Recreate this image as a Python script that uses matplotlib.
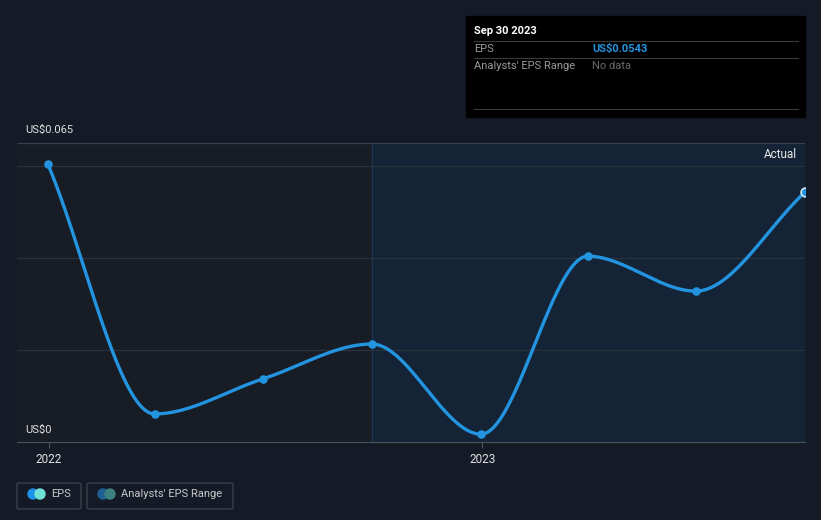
import numpy as np
import pandas as pd
import matplotlib
matplotlib.use('Agg')
import matplotlib.pyplot as plt
import matplotlib.dates as mdates
from matplotlib.patches import FancyBboxPatch, Rectangle, Ellipse

plt.rcParams['font.family'] = ['Roboto', 'DejaVu Sans']

## EPS data (quarterly)
dates = pd.to_datetime(['2021-12-31', '2022-03-31', '2022-06-30', '2022-09-30',
                        '2022-12-31', '2023-03-31', '2023-06-30', '2023-09-30'])
eps = [0.0604, 0.0061, 0.0137, 0.0213, 0.0017, 0.0404, 0.0328, 0.0543]
forecast_start = pd.Timestamp('2022-09-30')
tick_dates = pd.to_datetime(['2022-01-01', '2023-01-01'])
tick_labels = ['2022', '2023']

BG = '#151b26'
LINE = '#2394e0'


def monotone(x, y, n=600):
    # monotone cubic (Fritsch-Carlson) for the smooth curve
    x = np.asarray(x, float); y = np.asarray(y, float)
    h = np.diff(x); d = np.diff(y) / h
    m = np.zeros_like(y)
    m[0] = d[0]; m[-1] = d[-1]
    for i in range(1, len(y) - 1):
        if d[i - 1] * d[i] <= 0:
            m[i] = 0
        else:
            w1 = 2 * h[i] + h[i - 1]; w2 = h[i] + 2 * h[i - 1]
            m[i] = (w1 + w2) / (w1 / d[i - 1] + w2 / d[i])
    xs = np.linspace(x[0], x[-1], n)
    idx = np.clip(np.searchsorted(x, xs) - 1, 0, len(h) - 1)
    t = (xs - x[idx]) / h[idx]
    h00 = 2*t**3 - 3*t**2 + 1; h10 = t**3 - 2*t**2 + t
    h01 = -2*t**3 + 3*t**2; h11 = t**3 - t**2
    ys = h00*y[idx] + h10*h[idx]*m[idx] + h01*y[idx+1] + h11*h[idx]*m[idx+1]
    return xs, ys


fig = plt.figure(figsize=(8.21, 5.2), dpi=100, facecolor=BG)
W, H = 821, 520
ax = fig.add_axes([17/W, 1 - 442/H, (805-17)/W, (442-143)/H])
ax.set_facecolor('#181c25')

xn = mdates.date2num(dates)
x0 = mdates.date2num(pd.Timestamp('2021-12-05'))
ax.set_xlim(x0, xn[-1])
ax.set_ylim(0, 0.065)

# actual region shading
fs = mdates.date2num(forecast_start)
ax.axvspan(fs, xn[-1], color='#142436', zorder=0, lw=0)
ax.axvline(fs, color='#1d3550', lw=1, zorder=1)

for g in [0.02, 0.04, 0.06]:
    ax.axhline(g, color='#29323d', lw=0.9, zorder=1)
ax.axhline(0.065, color='#3a424c', lw=0.9, zorder=1)

xs, ys = monotone(xn, eps)
ax.plot(xs, ys, color=LINE, lw=2.4, zorder=3, solid_capstyle='round')
ax.scatter(xn[:-1], eps[:-1], s=38, color=LINE, zorder=4, lw=0)
ax.scatter(xn[-1:], eps[-1:], s=40, color=LINE, edgecolor='#cfe6f7', lw=1.2, zorder=5)

for s in ['top', 'right', 'left']:
    ax.spines[s].set_visible(False)
ax.spines['bottom'].set_color('#4a525c')
ax.set_yticks([])
ax.set_xticks(mdates.date2num(tick_dates))
ax.set_xticklabels(tick_labels, color='#e0e0e0', fontsize=8.5)
ax.tick_params(axis='x', length=4, color='#4a525c', pad=4)

ax.text(0.99, 0.96, 'Actual', transform=ax.transAxes, ha='right', va='center',
        color='#e8e8e8', fontsize=8.5)

# y labels
fig.text(25/W, 1 - 130/H, 'US$0.065', color='#e0e0e0', fontsize=8, va='center')
fig.text(25/W, 1 - 430/H, 'US$0', color='#e0e0e0', fontsize=8, va='center')

# tooltip box
fig.patches.append(Rectangle((466/W, 1 - 117/H), (805-466)/W, (117-16)/H,
                             transform=fig.transFigure, color='#000000', zorder=5))
for yy in [41, 58, 109]:
    fig.lines.append(plt.Line2D([474/W, 798/W], [1 - yy/H]*2, transform=fig.transFigure,
                                color='#3a3a3a', lw=0.8, zorder=6))
fig.text(474/W, 1 - 31/H, 'Sep 30 2023', color='#ffffff', fontsize=8, fontweight='bold', va='center', zorder=7)
fig.text(474/W, 1 - 49/H, 'EPS', color='#9a9a9a', fontsize=8, va='center', zorder=7)
fig.text(592/W, 1 - 49/H, 'US$0.0543', color='#2394e0', fontsize=8, fontweight='bold', va='center', zorder=7)
fig.text(474/W, 1 - 66/H, "Analysts' EPS Range", color='#9a9a9a', fontsize=8, va='center', zorder=7)
fig.text(592/W, 1 - 66/H, 'No data', color='#6a6a6a', fontsize=8, va='center', zorder=7)

# legend
def legend_box(x1, x2, c1, c2, label):
    fig.patches.append(FancyBboxPatch((x1/W, 1 - 509/H), (x2-x1)/W, (509-483)/H,
                                      boxstyle='round,pad=0,rounding_size=0.003',
                                      transform=fig.transFigure, facecolor='none',
                                      edgecolor='#3e454f', lw=0.9))
    fig.patches.append(Ellipse(((x1+16)/W, 1 - 494/H), 10/W, 10/H, transform=fig.transFigure,
                               color=c1, zorder=3))
    fig.patches.append(Ellipse(((x1+23)/W, 1 - 494/H), 10/W, 10/H, transform=fig.transFigure,
                               color=c2, zorder=4))
    fig.text((x1+34)/W, 1 - 494/H, label, color='#c8c8c8', fontsize=8, va='center')

legend_box(17, 81, '#1e90e8', '#6fe3d6', 'EPS')
legend_box(87, 233, '#1f5f93', '#3c8080', "Analysts' EPS Range")

fig.savefig('out.png', dpi=100, facecolor=BG)
